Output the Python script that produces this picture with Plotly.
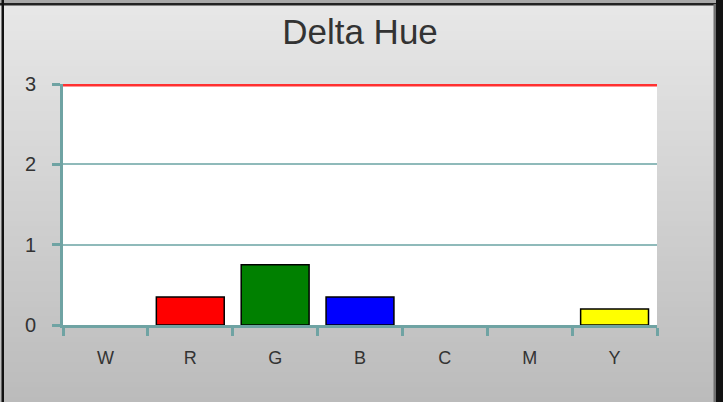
import plotly.graph_objects as go

categories = ["W", "R", "G", "B", "C", "M", "Y"]
values = [0, 0.35, 0.75, 0.35, 0, 0, 0.2]
bar_colors = ["white", "#ff0000", "#008000", "#0000ff", "white", "white", "#ffff00"]
y_ticks = [0, 1, 2, 3]
limit_value = 3

W, H = 723, 402
ml, mr, mt, mb = 63, 66, 84, 77
pw, ph = W - ml - mr, H - mt - mb

def px_x(p):
    return (p - ml) / pw

def px_y(p):
    return (H - mb - p) / ph

teal = "#6fa3a3"

fig = go.Figure()
fig.add_trace(go.Bar(
    x=categories, y=values, width=0.8,
    marker=dict(color=bar_colors,
                line=dict(color="black", width=[1.5 if v > 0 else 0 for v in values])),
    hoverinfo="x+y",
))

shapes = []
# gradient background bands (each band runs to the bottom so no seams)
n = 80
top_c, bot_c = 0xe8, 0xbb
for i in range(n):
    y0p = H * i / n
    t = (i + 0.5) / n
    c = int(round(top_c + (bot_c - top_c) * t))
    col = f"rgb({c},{c},{c})"
    shapes.append(dict(type="rect", xref="paper", yref="paper",
                       x0=px_x(0), x1=px_x(W), y0=px_y(H), y1=px_y(y0p),
                       fillcolor=col, line=dict(width=0), layer="below"))
# borders
shapes.append(dict(type="rect", xref="paper", yref="paper", x0=px_x(0), x1=px_x(W),
                   y0=px_y(3), y1=px_y(0), fillcolor="#a8a8a8", line=dict(width=0), layer="below"))
shapes.append(dict(type="rect", xref="paper", yref="paper", x0=px_x(0), x1=px_x(W),
                   y0=px_y(5.5), y1=px_y(3), fillcolor="#222222", line=dict(width=0), layer="below"))
shapes.append(dict(type="rect", xref="paper", yref="paper", x0=px_x(1.5), x1=px_x(4),
                   y0=px_y(H), y1=px_y(0), fillcolor="#111111", line=dict(width=0), layer="below"))
shapes.append(dict(type="rect", xref="paper", yref="paper", x0=px_x(713.5), x1=px_x(716),
                   y0=px_y(H), y1=px_y(4), fillcolor="#707070", line=dict(width=0), layer="below"))
shapes.append(dict(type="rect", xref="paper", yref="paper", x0=px_x(716), x1=px_x(W),
                   y0=px_y(H), y1=px_y(0), fillcolor="#111111", line=dict(width=0), layer="below"))
# white plot area
shapes.append(dict(type="rect", xref="paper", yref="paper", x0=0, x1=1, y0=0, y1=1,
                   fillcolor="white", line=dict(width=0), layer="below"))
# red limit line (half is clipped at the plot edge)
shapes.append(dict(type="line", xref="paper", yref="y", x0=0, x1=1, y0=limit_value, y1=limit_value,
                   line=dict(color="#ff3030", width=5), layer="above"))

fig.update_layout(
    width=W, height=H,
    margin=dict(l=ml, r=mr, t=mt, b=mb, pad=0),
    paper_bgcolor="rgba(0,0,0,0)",
    plot_bgcolor="white",
    showlegend=False,
    bargap=0.2,
    font=dict(family="Liberation Sans, Arial, sans-serif", color="#333333", size=19),
    title=dict(text="Delta Hue", x=0.5, xref="paper", xanchor="center",
               y=1 - 32 / H, yref="container", yanchor="middle",
               font=dict(size=35, color="#333333")),
    shapes=shapes,
    xaxis=dict(type="category", range=[-0.5, 6.5], tickson="boundaries",
               ticks="outside", ticklen=8, tickwidth=3, tickcolor=teal,
               showline=True, linecolor=teal, linewidth=3, showgrid=False,
               ticklabelstandoff=14, tickfont=dict(size=18)),
    yaxis=dict(range=[0, 3], tickvals=y_ticks, ticks="outside", ticklen=8, tickwidth=3,
               tickcolor=teal, showline=True, linecolor=teal, linewidth=3,
               showgrid=True, gridcolor="#8fbaba", gridwidth=2, zeroline=False,
               ticklabelstandoff=12, tickfont=dict(size=20)),
)

fig.write_html("out.html", config={"displayModeBar": False},
               post_script="document.body.style.margin='0';document.body.style.overflow='hidden';")
